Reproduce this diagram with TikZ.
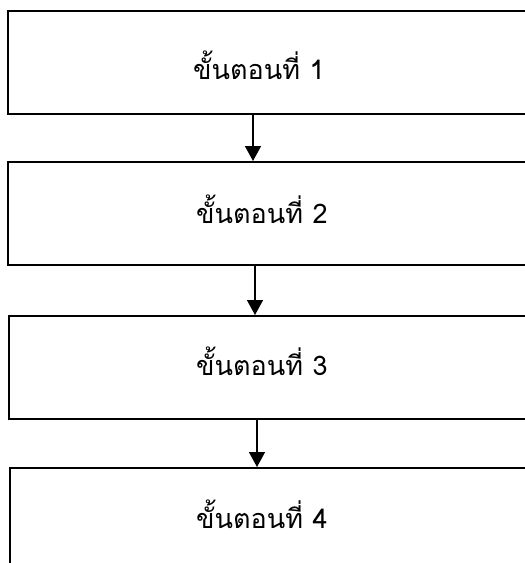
\documentclass[tikz,border=0pt]{standalone}
\usepackage{fontspec}
\newfontfamily\thaifont[Script=Thai]{Loma}
\usetikzlibrary{arrows.meta}
\tikzset{
  x=1pt, y=-1pt,
  stepbox/.style={draw=black, line width=1.9pt, minimum width=540pt, minimum height=103pt, anchor=north west, inner sep=0pt},
  steptext/.style={font=\thaifont\fontsize{27}{31}\selectfont, inner sep=0pt, anchor=west},
  arr/.style={line width=1.5pt, -{Triangle[width=16pt,length=15pt]}}
}
\begin{document}
\begin{tikzpicture}
\useasboundingbox (0,0) rectangle (525,563);
\fill[white] (0,0) rectangle (525,563);
\clip (0,0) rectangle (525,563);
\node[stepbox] (b1) at (7,10) {};
\node[stepbox] (b2) at (7,161) {};
\node[stepbox] (b3) at (8,315) {};
\node[stepbox] (b4) at (9,467) {};
\node[steptext] (t1) at (193,65) {ขั้นตอนที่\hspace{0.35em}1};
\node[steptext] (t2) at (196,209) {ขั้นตอนที่\hspace{0.35em}2};
\node[steptext] (t3) at (196,361) {ขั้นตอนที่\hspace{0.35em}3};
\node[steptext] (t4) at (196,514) {ขั้นตอนที่\hspace{0.35em}4};
\coordinate (a1) at (253,0);
\coordinate (a2) at (255,0);
\coordinate (a3) at (257,0);
\draw[arr] (b1.south -| a1) -- (b2.north -| a1);
\draw[arr] (b2.south -| a2) -- (b3.north -| a2);
\draw[arr] (b3.south -| a3) -- (b4.north -| a3);
\end{tikzpicture}
\end{document}
